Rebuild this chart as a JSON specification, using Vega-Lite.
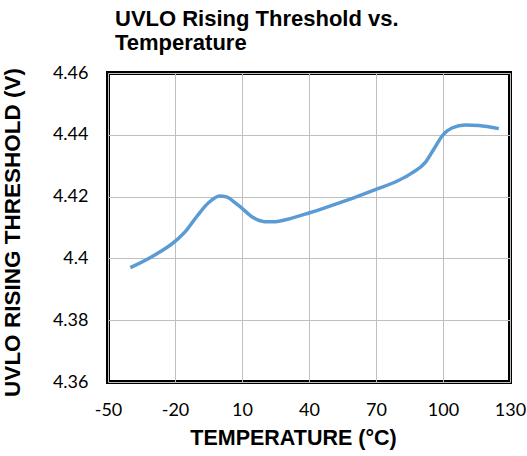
{
  "$schema": "https://vega.github.io/schema/vega-lite/v6.json",
  "autosize": {"type": "none"},
  "width": 402,
  "height": 309,
  "padding": {"left": 108, "top": 73, "right": 17, "bottom": 74},
  "background": "white",
  "title": {
    "text": ["UVLO Rising Threshold vs.", "Temperature"],
    "anchor": "start",
    "frame": "group",
    "font": "Liberation Sans",
    "fontSize": 22,
    "fontWeight": "bold",
    "color": "#000000",
    "lineHeight": 24,
    "dx": 7,
    "offset": 9
  },
  "config": {
    "view": {"stroke": "#000000", "strokeWidth": 4},
    "axis": {
      "domain": false,
      "ticks": false,
      "labelFlush": false,
      "gridColor": "#bfbfbf",
      "gridWidth": 1,
      "labelFont": "Lato",
      "labelFontSize": 18,
      "labelColor": "#000000",
      "titleFont": "Liberation Sans",
      "titleFontWeight": "bold",
      "titleColor": "#000000"
    }
  },
  "data": {
    "values": [
      {"t": -40, "v": 4.397},
      {"t": -30, "v": 4.4007},
      {"t": -20, "v": 4.4055},
      {"t": -15, "v": 4.409},
      {"t": -10, "v": 4.4138},
      {"t": -5, "v": 4.418},
      {"t": 0, "v": 4.4202},
      {"t": 3, "v": 4.4199},
      {"t": 7, "v": 4.418},
      {"t": 10, "v": 4.4162},
      {"t": 15, "v": 4.4132},
      {"t": 20, "v": 4.4119},
      {"t": 25, "v": 4.4119},
      {"t": 30, "v": 4.4126},
      {"t": 40, "v": 4.4147},
      {"t": 50, "v": 4.4171},
      {"t": 60, "v": 4.4196},
      {"t": 70, "v": 4.4223},
      {"t": 80, "v": 4.4252},
      {"t": 86, "v": 4.4276},
      {"t": 92, "v": 4.431},
      {"t": 96, "v": 4.4355},
      {"t": 100, "v": 4.44},
      {"t": 104, "v": 4.4422},
      {"t": 110, "v": 4.4432},
      {"t": 116, "v": 4.443},
      {"t": 125, "v": 4.442}
    ]
  },
  "mark": {"type": "line", "color": "#5b9bd5", "strokeWidth": 3.5, "interpolate": "monotone"},
  "encoding": {
    "x": {
      "field": "t",
      "type": "quantitative",
      "scale": {"domain": [-50, 130], "nice": false, "zero": false},
      "axis": {"values": [-50, -20, 10, 40, 70, 100, 130], "labelExpr": "toString(datum.value)", "title": "TEMPERATURE (°C)", "titleFontSize": 21.5, "labelPadding": 19, "titlePadding": 8, "titleX": 185}
    },
    "y": {
      "field": "v",
      "type": "quantitative",
      "scale": {"domain": [4.36, 4.46], "nice": false, "zero": false},
      "axis": {"values": [4.36, 4.38, 4.4, 4.42, 4.44, 4.46], "format": "~g", "title": "UVLO RISING THRESHOLD (V)", "titleFontSize": 22.5, "labelPadding": 20, "titlePadding": 28, "titleY": 159}
    }
  }
}
